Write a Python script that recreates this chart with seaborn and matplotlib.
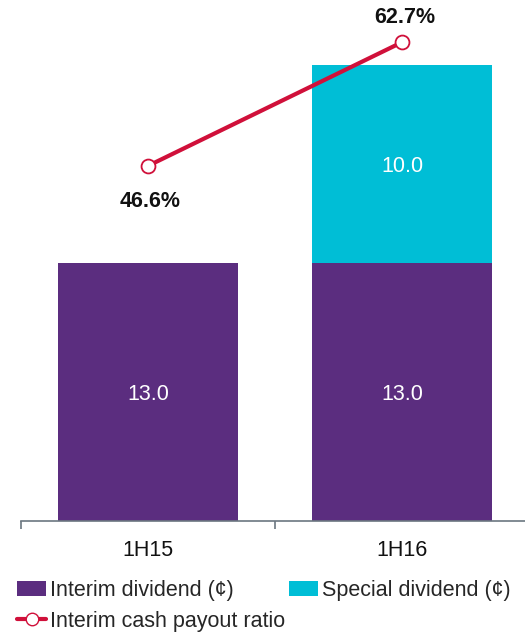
import matplotlib
matplotlib.use("Agg")
import matplotlib.pyplot as plt
import seaborn as sns
import pandas as pd
from matplotlib.patches import Patch
from matplotlib.lines import Line2D

categories = ["1H15", "1H16"]
interim = [13.0, 13.0]
special = [0.0, 10.0]
payout = [46.6, 62.7]

PURPLE = "#5B2D7F"
CYAN = "#00BED6"
RED = "#D0103A"
FS = 15.5

sns.set_theme(style="white")
plt.rcParams["font.family"] = ["Liberation Sans", "DejaVu Sans"]

fig = plt.figure(figsize=(5.25, 6.33), dpi=100)
ax = fig.add_axes([21 / 525, 112 / 633, 508 / 525, 521 / 633])

df = pd.DataFrame({"cat": categories, "interim": interim, "special": special})
df["total"] = df["interim"] + df["special"]

sns.barplot(data=df, x="cat", y="total", color=CYAN, width=0.709, ax=ax,
            saturation=1, edgecolor="none")
sns.barplot(data=df, x="cat", y="interim", color=PURPLE, width=0.709, ax=ax,
            saturation=1, edgecolor="none")

ax.set_xlim(-0.5, 1.5)
ax.set_ylim(0, 26.25)
ax.set_xlabel("")
ax.set_ylabel("")
ax.set_yticks([])
for s in ["top", "right", "left"]:
    ax.spines[s].set_visible(False)
ax.spines["bottom"].set_color("#6B7780")
ax.spines["bottom"].set_linewidth(1.2)
ax.set_xticks([-0.5, 0.5, 1.5], minor=False)
ax.set_xticklabels([])
ax.tick_params(axis="x", which="major", direction="out", length=6, width=1.2,
               color="#6B7780", bottom=True)
ax.set_xticks([0, 1], minor=True)
ax.set_xticklabels(categories, minor=True, fontsize=FS, color="#111111")
ax.tick_params(axis="x", which="minor", length=0, pad=14)

for i in range(len(categories)):
    ax.annotate(f"{interim[i]:.1f}", (i, interim[i] / 2), xytext=(0, -3),
                textcoords="offset pixels", ha="center", va="center",
                color="white", fontsize=FS)
    if special[i] > 0:
        ax.annotate(f"{special[i]:.1f}", (i, interim[i] + special[i] / 2),
                    xytext=(0, -3), textcoords="offset pixels",
                    ha="center", va="center", color="white", fontsize=FS)

ax2 = ax.twinx()
sns.lineplot(x=[0, 1], y=payout, ax=ax2, color=RED, linewidth=3, marker="o",
             markersize=10, markerfacecolor="white", markeredgecolor=RED,
             markeredgewidth=1.3)
ax2.set_ylim(0.35, 68.2)
ax2.set_yticks([])
ax2.set_ylabel("")
for s in ["top", "right", "left", "bottom"]:
    ax2.spines[s].set_visible(False)

ax2.annotate(f"{payout[0]:.1f}%", (0, payout[0]), xytext=(2, -36),
             textcoords="offset pixels", ha="center", va="center",
             fontsize=FS, fontweight="bold", color="#111111")
ax2.annotate(f"{payout[1]:.1f}%", (1, payout[1]), xytext=(3, 25),
             textcoords="offset pixels", ha="center", va="center",
             fontsize=FS, fontweight="bold", color="#111111")

handles = [
    Patch(facecolor=PURPLE, edgecolor="none", label="Interim dividend (¢)"),
    Line2D([0], [0], color=RED, linewidth=3, marker="o", markersize=9,
           markerfacecolor="white", markeredgecolor=RED,
           label="Interim cash payout ratio"),
    Patch(facecolor=CYAN, edgecolor="none", label="Special dividend (¢)"),
]
fig.legend(handles=handles, loc="upper left", bbox_to_anchor=(17 / 525, 1 - 580 / 633),
           ncol=2, frameon=False, fontsize=FS, handlelength=1.35,
           handleheight=0.7, handletextpad=0.2, columnspacing=0.15,
           labelspacing=0.45, borderpad=0, borderaxespad=0)

fig.savefig("out.png", dpi=100)
